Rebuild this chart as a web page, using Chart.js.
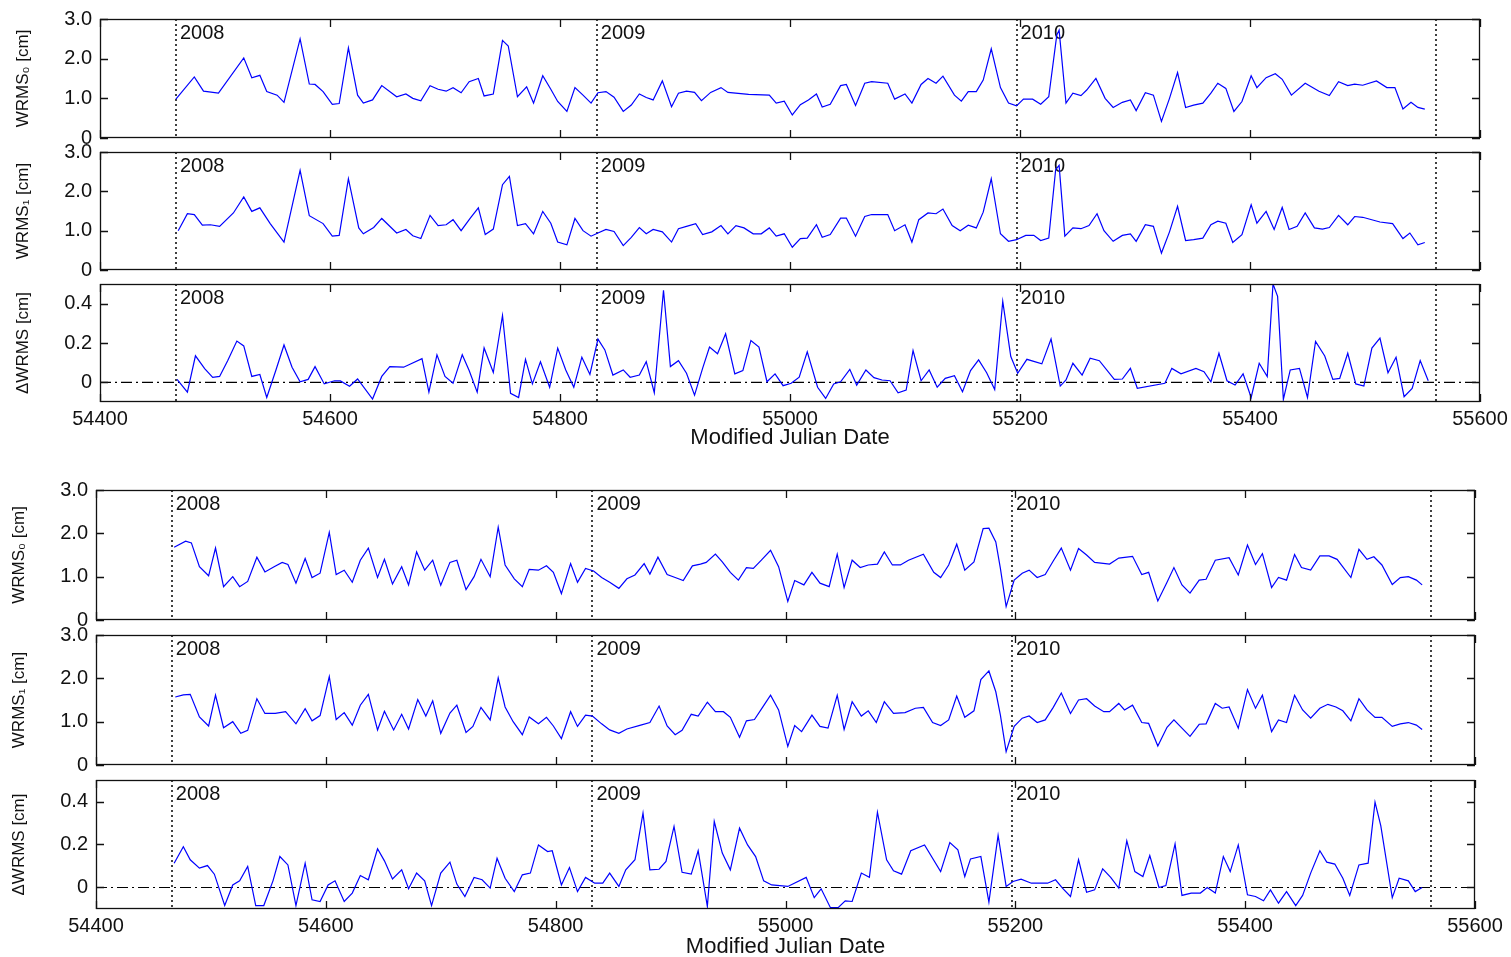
<!DOCTYPE html>
<html>
<head>
<meta charset="utf-8">
<script src="https://cdn.jsdelivr.net/npm/chart.js@4/dist/chart.umd.min.js"></script>
<style>
  html, body { margin: 0; padding: 0; background: #fff; }
  body { width: 1511px; height: 957px; position: relative; overflow: hidden; }
  .panel { position: absolute; left: 0; }
</style>
</head>
<body>
<script>
// ---- axis values ----
const xTicks = [54400, 54600, 54800, 55000, 55200, 55400, 55600];
const yearStarts = [54466, 54832, 55197, 55562];
const yearNames = ['2008', '2009', '2010'];
const wrmsTicks = [0, 1, 2, 3];
const deltaTicks = [0, 0.2, 0.4];

// ---- upper block: WRMS0 ----
const upW0Mjd = [54466,54482,54490,54503,54525,54532,54539,54545,54554,54560,54574,54582,54587,54594,54602,54608,54616,54624,54629,54637,54645,54658,54666,54672,54679,54687,54694,54701,54707,54714,54721,54729,54734,54742,54750,54755,54763,54771,54777,54785,54792,54798,54806,54813,54820,54827,54833,54840,54847,54855,54862,54869,54875,54881,54889,54897,54903,54910,54917,54923,54931,54940,54946,54964,54982,54988,54995,55002,55009,55016,55023,55028,55035,55044,55049,55057,55065,55071,55085,55091,55100,55106,55114,55120,55127,55133,55143,55149,55155,55162,55168,55175,55183,55190,55197,55203,55211,55218,55225,55232,55234,55240,55246,55253,55258,55266,55274,55281,55289,55296,55301,55309,55316,55323,55330,55337,55344,55351,55359,55366,55372,55379,55386,55393,55401,55406,55414,55422,55428,55436,55448,55460,55469,55477,55485,55491,55498,55510,55519,55526,55533,55540,55546,55552];
const upW0Val = [0.98,1.54,1.18,1.13,2.02,1.52,1.58,1.17,1.08,0.90,2.50,1.36,1.35,1.17,0.85,0.87,2.27,1.08,0.88,0.96,1.32,1.04,1.11,1.00,0.94,1.32,1.23,1.18,1.27,1.14,1.42,1.50,1.06,1.11,2.46,2.32,1.04,1.29,0.88,1.57,1.23,0.92,0.67,1.27,1.08,0.88,1.14,1.17,1.03,0.67,0.83,1.11,1.02,0.96,1.44,0.79,1.13,1.18,1.15,0.94,1.15,1.27,1.15,1.10,1.08,0.88,0.93,0.58,0.84,0.96,1.11,0.78,0.85,1.32,1.35,0.82,1.38,1.42,1.38,0.98,1.11,0.88,1.35,1.50,1.38,1.56,1.08,0.93,1.17,1.17,1.46,2.25,1.27,0.88,0.81,0.98,0.98,0.85,1.04,2.60,2.72,0.88,1.13,1.07,1.21,1.50,1.00,0.77,0.90,0.96,0.69,1.14,1.08,0.42,1.00,1.65,0.77,0.83,0.88,1.13,1.38,1.25,0.67,0.92,1.57,1.27,1.52,1.62,1.48,1.08,1.38,1.18,1.07,1.42,1.32,1.36,1.33,1.44,1.27,1.27,0.73,0.90,0.77,0.73];

// ---- upper block: WRMS1 ----
const upW1Mjd = [54468,54476,54482,54489,54496,54504,54516,54525,54532,54539,54548,54560,54574,54582,54594,54602,54608,54616,54625,54629,54638,54645,54658,54666,54672,54679,54687,54694,54701,54707,54714,54722,54729,54735,54742,54750,54756,54763,54770,54777,54785,54792,54798,54806,54813,54820,54827,54833,54840,54847,54855,54862,54869,54875,54881,54889,54897,54903,54910,54918,54924,54932,54940,54946,54953,54960,54968,54975,54982,54988,54995,55002,55009,55015,55023,55028,55035,55044,55049,55057,55065,55071,55085,55091,55100,55106,55112,55120,55127,55133,55141,55148,55155,55162,55168,55175,55183,55190,55197,55205,55212,55218,55225,55231,55234,55239,55246,55253,55260,55267,55273,55281,55289,55296,55301,55309,55316,55323,55330,55337,55344,55351,55359,55366,55372,55379,55385,55393,55401,55406,55414,55421,55428,55434,55441,55448,55456,55463,55469,55477,55485,55491,55498,55513,55524,55533,55539,55546,55552];
const upW1Val = [1.00,1.43,1.41,1.14,1.15,1.11,1.45,1.86,1.49,1.58,1.18,0.71,2.53,1.38,1.18,0.86,0.88,2.32,1.07,0.92,1.08,1.31,0.94,1.03,0.87,0.80,1.39,1.13,1.15,1.28,1.00,1.32,1.58,0.90,1.04,2.17,2.38,1.13,1.18,0.92,1.49,1.19,0.71,0.64,1.31,1.00,0.86,0.94,1.03,0.98,0.62,0.83,1.08,0.92,1.03,0.97,0.71,1.05,1.11,1.18,0.90,0.97,1.13,0.92,1.13,1.07,0.92,0.92,1.07,0.86,0.92,0.58,0.80,0.81,1.15,0.83,0.90,1.32,1.32,0.86,1.36,1.41,1.41,1.00,1.15,0.71,1.28,1.45,1.43,1.55,1.13,1.00,1.14,1.07,1.47,2.32,0.92,0.73,0.77,0.88,0.88,0.75,0.81,2.55,2.66,0.86,1.07,1.05,1.13,1.43,1.00,0.73,0.88,0.92,0.73,1.15,1.11,0.43,0.97,1.62,0.75,0.77,0.81,1.15,1.24,1.19,0.70,0.90,1.66,1.19,1.49,1.03,1.59,1.03,1.11,1.45,1.07,1.04,1.08,1.39,1.15,1.36,1.34,1.22,1.18,0.80,0.94,0.64,0.70];

// ---- upper block: delta WRMS ----
const upDMjd = [54467,54476,54483,54491,54498,54504,54511,54519,54525,54532,54539,54545,54553,54560,54567,54574,54581,54587,54595,54604,54609,54617,54624,54637,54645,54652,54664,54680,54686,54693,54700,54707,54715,54721,54728,54734,54742,54750,54757,54764,54770,54776,54783,54791,54798,54805,54812,54819,54826,54833,54839,54846,54855,54861,54869,54875,54882,54890,54896,54903,54910,54917,54924,54930,54937,54944,54952,54959,54966,54973,54980,54987,54994,55001,55008,55015,55024,55031,55038,55044,55052,55058,55066,55073,55080,55087,55094,55101,55107,55114,55121,55128,55135,55143,55150,55157,55164,55171,55178,55185,55192,55198,55206,55219,55227,55235,55240,55246,55254,55261,55269,55282,55289,55296,55302,55326,55332,55340,55353,55360,55366,55373,55380,55387,55394,55401,55408,55415,55420,55424,55429,55435,55443,55450,55457,55465,55472,55478,55485,55492,55499,55506,55513,55520,55527,55534,55541,55548,55555];
const upDVal = [0.015,-0.05,0.135,0.07,0.025,0.03,0.11,0.21,0.185,0.03,0.04,-0.077,0.063,0.19,0.077,0.003,0.015,0.08,-0.008,0.008,0.007,-0.02,0.017,-0.085,0.03,0.08,0.077,0.12,-0.05,0.14,0.03,-0.005,0.14,0.06,-0.05,0.175,0.05,0.34,-0.056,-0.077,0.117,-0.008,0.105,-0.025,0.174,0.063,-0.025,0.128,0.04,0.22,0.165,0.037,0.063,0.026,0.037,0.105,-0.053,0.468,0.08,0.11,0.046,-0.065,0.071,0.179,0.145,0.247,0.043,0.06,0.213,0.179,0.003,0.043,-0.017,-0.005,0.026,0.155,-0.025,-0.082,-0.008,0.003,0.066,-0.014,0.063,0.024,0.012,0.008,-0.053,-0.039,0.162,0.008,0.063,-0.025,0.02,0.034,-0.048,0.06,0.114,0.049,-0.036,0.412,0.131,0.046,0.117,0.094,0.22,-0.019,0.012,0.097,0.037,0.123,0.11,0.015,0.017,0.071,-0.03,-0.005,0.071,0.043,0.071,0.054,0.003,0.148,0.008,-0.014,0.043,-0.077,0.097,0.029,0.5,0.437,-0.087,0.063,0.071,-0.077,0.208,0.134,0.015,0.02,0.148,-0.008,-0.019,0.174,0.225,0.049,0.128,-0.073,-0.031,0.111,0.008];

// ---- lower block: WRMS0 ----
const loW0Mjd = [54468,54478,54483,54490,54498,54504,54511,54519,54525,54532,54540,54547,54555,54562,54567,54574,54582,54588,54595,54603,54609,54616,54623,54630,54637,54645,54651,54658,54666,54672,54679,54686,54693,54700,54708,54714,54722,54729,54735,54743,54750,54756,54764,54771,54777,54785,54792,54798,54805,54813,54819,54826,54833,54840,54847,54855,54862,54869,54877,54882,54889,54897,54904,54911,54919,54926,54931,54939,54945,54952,54959,54966,54972,54979,54987,54994,55002,55008,55016,55023,55030,55038,55045,55051,55058,55065,55072,55080,55086,55093,55100,55107,55120,55129,55135,55142,55149,55156,55164,55172,55177,55183,55187,55192,55199,55206,55212,55219,55226,55233,55240,55248,55255,55262,55269,55282,55290,55302,55310,55316,55324,55332,55338,55345,55352,55360,55366,55374,55386,55394,55402,55409,55415,55423,55429,55436,55443,55449,55457,55465,55473,55480,55492,55499,55506,55512,55519,55528,55535,55542,55549,55554];
const loW0Val = [1.68,1.82,1.78,1.23,1.02,1.66,0.77,1.00,0.77,0.89,1.45,1.11,1.23,1.33,1.28,0.85,1.42,0.98,1.08,2.02,1.05,1.15,0.87,1.38,1.66,0.98,1.40,0.83,1.23,0.81,1.57,1.15,1.38,0.80,1.33,1.38,0.70,1.00,1.40,1.00,2.14,1.27,0.95,0.77,1.17,1.15,1.25,1.10,0.61,1.30,0.87,1.19,1.13,0.98,0.87,0.73,0.95,1.04,1.30,1.06,1.45,1.05,0.98,0.91,1.25,1.29,1.33,1.52,1.34,1.10,0.92,1.21,1.19,1.38,1.61,1.23,0.43,0.91,0.81,1.10,0.85,0.77,1.52,0.75,1.38,1.21,1.27,1.29,1.57,1.27,1.27,1.38,1.52,1.10,0.98,1.27,1.75,1.15,1.34,2.11,2.12,1.80,1.19,0.31,0.92,1.08,1.15,0.98,1.05,1.36,1.66,1.15,1.65,1.50,1.33,1.29,1.43,1.47,1.05,1.10,0.44,0.87,1.21,0.81,0.62,0.92,0.94,1.38,1.44,1.04,1.73,1.28,1.53,0.75,0.98,0.92,1.51,1.21,1.15,1.48,1.48,1.40,0.98,1.63,1.40,1.46,1.27,0.82,0.98,1.00,0.92,0.81];

// ---- lower block: WRMS1 ----
const loW1Mjd = [54469,54476,54482,54490,54498,54504,54511,54519,54526,54532,54540,54547,54556,54565,54574,54582,54588,54595,54603,54609,54616,54623,54630,54637,54645,54651,54659,54666,54672,54680,54687,54693,54700,54708,54714,54722,54728,54735,54743,54750,54756,54763,54771,54777,54785,54792,54798,54805,54813,54819,54826,54832,54840,54847,54855,54862,54874,54882,54890,54897,54904,54910,54918,54924,54932,54939,54946,54952,54960,54966,54973,54980,54987,54994,55002,55008,55014,55023,55030,55037,55045,55051,55058,55066,55072,55079,55086,55094,55104,55113,55120,55128,55135,55142,55149,55156,55164,55170,55177,55183,55187,55192,55199,55206,55212,55219,55226,55233,55240,55248,55255,55262,55269,55277,55282,55290,55295,55302,55310,55316,55324,55332,55338,55345,55352,55360,55366,55374,55380,55386,55394,55402,55409,55415,55423,55429,55436,55443,55450,55457,55465,55472,55479,55485,55492,55499,55506,55513,55519,55528,55535,55542,55549,55554];
const loW1Val = [1.57,1.62,1.63,1.11,0.90,1.61,0.86,1.00,0.73,0.80,1.53,1.19,1.19,1.23,0.95,1.30,1.02,1.14,2.04,1.05,1.21,0.92,1.38,1.63,0.81,1.24,0.81,1.17,0.83,1.51,1.13,1.48,0.73,1.20,1.38,0.75,0.89,1.33,1.04,2.01,1.34,1.00,0.70,1.11,0.95,1.10,0.90,0.61,1.23,0.89,1.15,1.13,0.95,0.81,0.73,0.83,0.92,0.98,1.36,0.90,0.70,0.80,1.17,1.13,1.45,1.23,1.23,1.10,0.64,1.02,1.05,1.33,1.61,1.27,0.43,0.91,0.77,1.15,0.89,0.85,1.61,0.82,1.46,1.13,1.25,0.98,1.46,1.19,1.21,1.31,1.33,0.98,0.91,1.04,1.59,1.10,1.25,1.97,2.17,1.69,1.15,0.31,0.89,1.08,1.13,0.98,1.04,1.33,1.66,1.19,1.50,1.53,1.36,1.23,1.23,1.42,1.27,1.38,0.98,0.96,0.44,0.87,1.04,0.85,0.66,0.94,0.95,1.42,1.31,1.34,0.85,1.74,1.31,1.61,0.77,1.04,0.98,1.61,1.27,1.08,1.31,1.40,1.34,1.25,1.02,1.53,1.27,1.10,1.10,0.89,0.95,0.98,0.92,0.82];

// ---- lower block: delta WRMS ----
const loDMjd = [54468,54476,54482,54490,54497,54503,54512,54519,54525,54532,54539,54546,54554,54560,54567,54574,54582,54588,54595,54602,54608,54616,54623,54630,54637,54645,54651,54658,54666,54672,54679,54686,54692,54700,54708,54714,54721,54729,54736,54743,54749,54756,54764,54771,54778,54785,54793,54797,54805,54812,54819,54826,54834,54841,54847,54855,54861,54869,54876,54882,54890,54896,54903,54910,54918,54924,54932,54938,54945,54952,54960,54967,54974,54981,54988,54995,55002,55018,55025,55031,55039,55046,55052,55058,55066,55073,55080,55088,55094,55101,55109,55121,55135,55143,55150,55156,55161,55170,55177,55185,55192,55198,55205,55214,55228,55235,55241,55248,55255,55262,55269,55276,55283,55290,55297,55304,55311,55317,55325,55331,55339,55345,55353,55361,55367,55374,55381,55387,55394,55402,55409,55416,55422,55429,55436,55444,55450,55457,55465,55471,55478,55485,55491,55499,55507,55513,55518,55528,55534,55542,55548,55554];
const loDVal = [0.113,0.19,0.129,0.09,0.102,0.062,-0.084,0.012,0.031,0.098,-0.084,-0.084,0.031,0.144,0.105,-0.084,0.113,-0.057,-0.065,0.012,0.031,-0.065,-0.026,0.056,0.036,0.18,0.124,0.04,0.082,-0.006,0.067,0.031,-0.084,0.067,0.118,0.016,-0.042,0.047,0.036,-0.003,0.136,0.043,-0.019,0.059,0.067,0.198,0.167,0.171,0.012,0.093,-0.019,0.047,0.02,0.02,0.067,0.005,0.082,0.129,0.346,0.082,0.085,0.121,0.284,0.071,0.062,0.171,-0.088,0.307,0.16,0.082,0.276,0.198,0.144,0.031,0.012,0.009,0.005,0.047,-0.047,-0.006,-0.093,-0.093,-0.062,-0.065,0.067,0.047,0.35,0.129,0.078,0.062,0.171,0.198,0.074,0.209,0.175,0.051,0.133,0.144,-0.068,0.242,0.005,0.028,0.039,0.02,0.02,0.036,-0.003,-0.042,0.129,-0.022,-0.011,0.087,0.047,-0.003,0.217,0.074,0.051,0.149,0,0.009,0.203,-0.037,-0.026,-0.026,0,-0.026,0.144,0.074,0.198,-0.034,-0.042,-0.062,-0.011,-0.073,-0.019,-0.084,-0.037,0.067,0.171,0.118,0.109,0.043,-0.037,0.105,0.113,0.397,0.288,-0.047,0.043,0.031,-0.019,0];

// ---- drawing ----
const FONT = "'Liberation Sans', Arial, 'DejaVu Sans', sans-serif";
Chart.defaults.font.family = FONT;
Chart.defaults.color = '#000';

const toPoints = (xs, ys) => xs.map((x, i) => ({ x, y: ys[i] }));

// frame, inward tick marks, year separators and year captions
const framePlugin = {
  id: 'frame',
  beforeDatasetsDraw(chart, args, opts) {
    const { ctx, chartArea: a, scales: { x } } = chart;
    ctx.save();
    ctx.strokeStyle = '#111';
    ctx.lineWidth = 1.6;
    ctx.setLineDash([2, 3]);
    yearStarts.forEach(m => {
      const px = Math.round(x.getPixelForValue(m));
      ctx.beginPath();
      ctx.moveTo(px, a.top);
      ctx.lineTo(px, a.bottom);
      ctx.stroke();
    });
    ctx.setLineDash([]);
    ctx.fillStyle = '#111';
    ctx.font = '20px ' + FONT;
    ctx.textBaseline = 'alphabetic';
    ctx.textAlign = 'left';
    yearNames.forEach((t, i) => {
      ctx.fillText(t, x.getPixelForValue(yearStarts[i]) + 4, a.top + 20);
    });
    ctx.restore();
  },
  afterDraw(chart, args, opts) {
    const { ctx, chartArea: a, scales: { x, y } } = chart;
    const len = 8;
    ctx.save();
    ctx.strokeStyle = '#111';
    ctx.lineWidth = 1.3;
    ctx.beginPath();
    xTicks.forEach(v => {
      const px = Math.round(x.getPixelForValue(v)) + 0.5;
      ctx.moveTo(px, a.top); ctx.lineTo(px, a.top + len);
      ctx.moveTo(px, a.bottom); ctx.lineTo(px, a.bottom - len);
    });
    opts.yTicks.forEach(v => {
      const py = Math.round(y.getPixelForValue(v)) + 0.5;
      ctx.moveTo(a.left, py); ctx.lineTo(a.left + len, py);
      ctx.moveTo(a.right, py); ctx.lineTo(a.right - len, py);
    });
    ctx.stroke();
    ctx.strokeRect(a.left + 0.5, a.top + 0.5, a.right - a.left - 1, a.bottom - a.top - 1);
    ctx.restore();
  }
};

const panels = [
  { xs: upW0Mjd, ys: upW0Val, kind: 'w', title: 'WRMS\u2080 [cm]', left: 100, right: 1480, top: 19, bottom: 138, xAxis: 0, titlePad: 13 },
  { xs: upW1Mjd, ys: upW1Val, kind: 'w', title: 'WRMS\u2081 [cm]', left: 100, right: 1480, top: 152, bottom: 270, xAxis: 0, titlePad: 13 },
  { xs: upDMjd, ys: upDVal, kind: 'd', title: '\u0394WRMS [cm]', left: 100, right: 1480, top: 284, bottom: 402, xAxis: 49, titlePad: 13 },
  { xs: loW0Mjd, ys: loW0Val, kind: 'w', title: 'WRMS\u2080 [cm]', left: 96, right: 1475, top: 490, bottom: 620, xAxis: 0, titlePad: 9 },
  { xs: loW1Mjd, ys: loW1Val, kind: 'w', title: 'WRMS\u2081 [cm]', left: 96, right: 1475, top: 635, bottom: 765, xAxis: 0, titlePad: 9 },
  { xs: loDMjd, ys: loDVal, kind: 'd', title: '\u0394WRMS [cm]', left: 96, right: 1475, top: 780, bottom: 909, xAxis: 51, titlePad: 9 }
];

panels.forEach(p => {
  const padTop = 14;
  const padBottom = p.xAxis ? 2 : 14;
  const height = padTop + (p.bottom - p.top) + p.xAxis + padBottom;
  const div = document.createElement('div');
  div.className = 'panel';
  div.style.top = (p.top - padTop) + 'px';
  div.style.width = '1511px';
  div.style.height = height + 'px';
  const canvas = document.createElement('canvas');
  canvas.width = 1511;
  canvas.height = height;
  canvas.style.width = '1511px';
  canvas.style.height = height + 'px';
  div.appendChild(canvas);
  document.body.appendChild(div);

  const isDelta = p.kind === 'd';
  const yTicks = isDelta ? deltaTicks : wrmsTicks;
  const datasets = [{
    data: toPoints(p.xs, p.ys),
    borderColor: '#0000ff',
    borderWidth: 1.2,
    pointRadius: 0,
    tension: 0,
    fill: false
  }];
  if (isDelta) {
    datasets.push({
      data: [{ x: xTicks[0], y: 0 }, { x: xTicks[xTicks.length - 1], y: 0 }],
      borderColor: '#000',
      borderWidth: 1.2,
      borderDash: [11, 4, 2, 4],
      pointRadius: 0,
      fill: false
    });
  }

  new Chart(canvas, {
    type: 'line',
    data: { datasets },
    plugins: [framePlugin],
    options: {
      responsive: false,
      animation: false,
      devicePixelRatio: 1,
      events: [],
      layout: { padding: { top: padTop, bottom: padBottom, left: 0, right: 1511 - p.right } },
      plugins: {
        legend: { display: false },
        tooltip: { enabled: false },
        frame: { yTicks }
      },
      scales: {
        x: {
          type: 'linear',
          min: xTicks[0],
          max: xTicks[xTicks.length - 1],
          afterBuildTicks: s => { s.ticks = xTicks.map(v => ({ value: v })); },
          afterFit: s => {
            s.height = p.xAxis;
            s.paddingLeft = 0; s.paddingRight = 0;
          },
          grid: { display: false, drawTicks: false },
          border: { display: false },
          ticks: {
            display: p.xAxis > 0,
            autoSkip: false,
            maxRotation: 0,
            padding: 5,
            color: '#111',
            font: { size: 20 },
            callback: v => String(v)
          },
          title: {
            display: p.xAxis > 0,
            text: 'Modified Julian Date',
            color: '#111',
            font: { size: 22 },
            padding: { top: 0, bottom: 0 }
          }
        },
        y: {
          min: isDelta ? -0.1 : 0,
          max: isDelta ? 0.5 : 3,
          afterBuildTicks: s => { s.ticks = yTicks.map(v => ({ value: v })); },
          afterFit: s => {
            s.width = p.left;
            s.paddingTop = 0; s.paddingBottom = 0;
          },
          grid: { display: false, drawTicks: false },
          border: { display: false },
          ticks: {
            padding: 8,
            color: '#111',
            font: { size: 20 },
            callback: v => (v === 0 ? '0' : v.toFixed(1))
          },
          title: {
            display: true,
            text: p.title,
            color: '#111',
            font: { size: 17 },
            padding: { top: p.titlePad, bottom: 0 }
          }
        }
      }
    }
  });
});
</script>
</body>
</html>
